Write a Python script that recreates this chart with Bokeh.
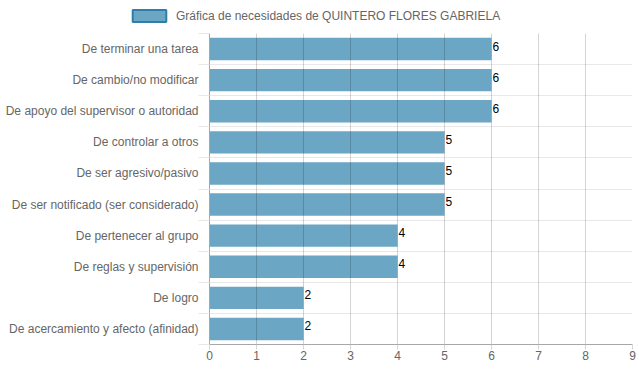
from bokeh.plotting import figure
from bokeh.layouts import column
from bokeh.models import (ColumnDataSource, FixedTicker, Grid, Legend, LegendItem, Range1d)
from bokeh.core.properties import value
from bokeh.embed import file_html
from bokeh.resources import INLINE

categories = [
    "De terminar una tarea",
    "De cambio/no modificar",
    "De apoyo del supervisor o autoridad",
    "De controlar a otros",
    "De ser agresivo/pasivo",
    "De ser notificado (ser considerado)",
    "De pertenecer al grupo",
    "De reglas y supervisión",
    "De logro",
    "De acercamiento y afecto (afinidad)",
]
values = [6, 6, 6, 5, 5, 5, 4, 4, 2, 2]
x_ticks = [0, 1, 2, 3, 4, 5, 6, 7, 8, 9]
series_name = "Gráfica de necesidades de QUINTERO FLORES GABRIELA"

n = len(categories)
ypos = [n - 1 - i for i in range(n)]
bounds = [i + 0.5 for i in range(-1, n)]
src = ColumnDataSource(dict(y=ypos, v=values, lab=[str(v) for v in values], cat=categories))

FONT = "Liberation Sans"
BAR = "#6ba6c5"

# ---- legend strip (separate figure so the legend is not clipped by the plot frame)
lg = figure(output_backend="svg", toolbar_location=None,
            frame_width=639, frame_height=33,
            x_range=Range1d(0, 1), y_range=Range1d(0, 1))
lg.min_border = 0
lg.axis.visible = False
lg.grid.visible = False
lg.outline_line_color = None
# placeholder renderer lying far outside the strip's ranges: only its legend swatch shows
sw = lg.hbar(y=[50], left=[50], right=[51], height=0.1, fill_color=BAR,
             line_color="#2f7eaa", line_width=2)
legend = Legend(items=[LegendItem(label=series_name, renderers=[sw])],
                location=(128, 10), orientation="horizontal",
                glyph_width=42, glyph_height=15, label_standoff=6,
                label_text_font_size="12px", label_text_color="#666666",
                label_text_font=FONT, padding=0, margin=0, spacing=0,
                border_line_color=None, background_fill_alpha=0,
                label_height=15)
lg.add_layout(legend, "center")

# ---- main chart
p = figure(output_backend="svg", toolbar_location=None,
           frame_width=423, frame_height=311,
           x_range=Range1d(0, 9), y_range=Range1d(-0.5, n - 0.5))
p.min_border_left = 209
p.min_border_right = 7
p.min_border_top = 0
p.min_border_bottom = 28
p.outline_line_color = None

bars = p.hbar(y="y", right="v", left=0, height=0.72, source=src,
              fill_color=BAR, line_color=None)

p.text(x="v", y="y", text="lab", source=src, text_font_size="12px",
       text_font=value(FONT), text_color="#000000",
       text_baseline="middle", text_align="left", x_offset=1, y_offset=-3)

# axes
p.xaxis.ticker = FixedTicker(ticks=x_ticks)
p.xaxis.major_label_text_font_size = "12px"
p.xaxis.major_label_text_color = "#666666"
p.xaxis.major_label_text_font = FONT
p.xaxis.major_tick_out = 5
p.xaxis.major_tick_in = 0
p.xaxis.major_tick_line_color = "#d6d6d6"
p.xaxis.minor_tick_line_color = None
p.xaxis.axis_line_color = "#a8a8a8"
p.xaxis.major_label_standoff = 1

p.yaxis.ticker = FixedTicker(ticks=ypos, minor_ticks=bounds)
p.yaxis.major_label_overrides = {ypos[i]: categories[i] for i in range(n)}
p.yaxis.major_label_text_font_size = "12px"
p.yaxis.major_label_text_color = "#666666"
p.yaxis.major_label_text_font = FONT
p.yaxis.major_tick_line_color = None
p.yaxis.minor_tick_out = 11
p.yaxis.minor_tick_in = 0
p.yaxis.minor_tick_line_color = "#e8e8e8"
p.yaxis.axis_line_color = "#a8a8a8"
p.yaxis.major_label_standoff = 0

# grids
p.xgrid.ticker = FixedTicker(ticks=x_ticks)
p.xgrid.grid_line_color = "#000000"
p.xgrid.grid_line_alpha = 0.17
p.xgrid.level = "overlay"
p.ygrid.grid_line_color = None
bgrid = Grid(dimension=1, ticker=FixedTicker(ticks=bounds),
             grid_line_color="#e8e8e8", grid_line_width=1)
p.add_layout(bgrid)

layout = column(lg, p, spacing=0)
open("out.html", "w").write(file_html(layout, INLINE))
